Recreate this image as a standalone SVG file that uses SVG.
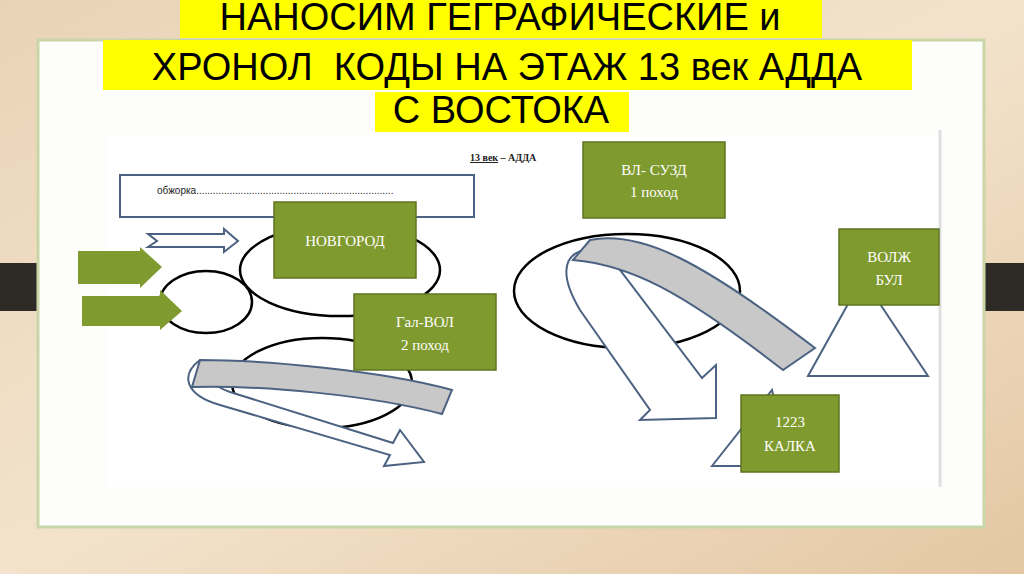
<svg xmlns="http://www.w3.org/2000/svg" width="1024" height="574" viewBox="0 0 1024 574">
<defs>
<linearGradient id="wood" x1="0" y1="0" x2="1" y2="1">
<stop offset="0" stop-color="#e9d3b6"/><stop offset="0.5" stop-color="#f3e3cc"/><stop offset="1" stop-color="#e4c7a3"/>
</linearGradient>
</defs>
<style>
.box{fill:#7f9a2e;stroke:#5f7420;stroke-width:1.5}
.bt{font-family:"Liberation Serif",serif;font-size:15px;fill:#fff;text-anchor:middle}
.ol{fill:none;stroke:#000;stroke-width:2.5}
.blue{fill:#fff;stroke:#4b6282;stroke-width:2}
.grey{fill:#c8c8c8;stroke:#4b6282;stroke-width:2}
.title{font-family:"Liberation Sans",sans-serif;font-size:38px;fill:#000;text-anchor:middle}
</style>
<rect width="1024" height="574" fill="url(#wood)"/>
<rect x="0" y="263" width="48" height="48" fill="#2e2a26"/>
<rect x="976" y="263" width="48" height="48" fill="#2e2a26"/>
<rect x="38" y="40" width="946" height="487" fill="#fdfdfb" stroke="#c9d7a8" stroke-width="3"/>
<rect x="108" y="135" width="832" height="352" fill="#fff"/>
<line x1="940" y1="130" x2="940" y2="487" stroke="#e0e0e0" stroke-width="3"/>
<g id="title">
<rect x="180" y="0" width="642" height="38" fill="#ffff00"/>
<rect x="103" y="40" width="809" height="50" fill="#ffff00"/>
<rect x="375" y="92" width="254" height="40" fill="#ffff00"/>
<text class="title" x="500" y="30">НАНОСИМ ГЕГРАФИЧЕСКИЕ и</text>
<text class="title" x="507" y="80" xml:space="preserve">ХРОНОЛ  КОДЫ НА ЭТАЖ 13 век АДДА</text>
<text class="title" x="501" y="123">С ВОСТОКА</text>
</g>
<text x="470" y="161" font-family="Liberation Serif,serif" font-size="10" font-weight="bold" fill="#222"><tspan text-decoration="underline">13  век</tspan> – АДДА</text>
<rect x="120" y="175" width="354" height="42" fill="#fff" stroke="#4b6282" stroke-width="2"/>
<text x="157" y="194" font-family="Liberation Sans,sans-serif" font-size="10" fill="#222">обжорка.......................................................................</text>
<g id="connectors">
<ellipse class="ol" cx="340" cy="270" rx="100" ry="46"/>
<ellipse class="ol" cx="206" cy="302" rx="46" ry="31"/>
<ellipse class="ol" cx="322" cy="383" rx="90" ry="45"/>
<ellipse class="ol" cx="627" cy="291" rx="113" ry="57"/>
<path class="blue" d="M148,234 L224,234 L224,229 L238,241 L224,252 L224,247 L148,247 L157,241 Z"/>
<path d="M78,251 L140,251 L140,247 L162,267 L140,288 L140,284 L78,284 Z" fill="#7f9a2e"/>
<path d="M82,296 L160,296 L160,290 L182,311 L160,330 L160,326 L82,326 Z" fill="#7f9a2e"/>
<path class="blue" d="M200,360 C180,375 185,395 220,405 L390,455 L384,466 L424,462 L400,430 L393,443 L230,392 C210,385 205,375 214,370 Z"/>
<path class="grey" d="M200,360 C260,360 380,370 452,390 L442,414 C370,395 260,385 192,387 Z"/>
<path class="blue" d="M585,250 C560,255 562,280 580,310 L650,410 L640,420 L716,418 L716,365 L702,378 L620,270 C610,260 600,252 585,250 Z"/>
<path class="grey" d="M590,240 C640,230 700,260 815,348 L783,370 C680,290 630,265 573,260 Z"/>
<path class="blue" d="M808,376 L848,304 L880,304 L928,376 Z"/>
<path class="blue" d="M712,466 L772,390 L790,466 Z"/>
</g>
<g id="novgorod"><rect class="box" x="274" y="202" width="142" height="76"/><text class="bt" x="345" y="246">НОВГОРОД</text></g>
<g id="galvol"><rect class="box" x="354" y="294" width="142" height="76"/><text class="bt" x="425" y="327">Гал-ВОЛ</text><text class="bt" x="425" y="350">2 поход</text></g>
<g id="vlsuzd"><rect class="box" x="583" y="142" width="142" height="76"/><text class="bt" x="654" y="175">ВЛ- СУЗД</text><text class="bt" x="654" y="197">1 поход</text></g>
<g id="volzhbul"><rect class="box" x="839" y="229" width="100" height="76"/><text class="bt" x="889" y="262">ВОЛЖ</text><text class="bt" x="889" y="285">БУЛ</text></g>
<g id="kalka"><rect class="box" x="741" y="395" width="98" height="77"/><text class="bt" x="790" y="427">1223</text><text class="bt" x="790" y="451">КАЛКА</text></g>
</svg>
